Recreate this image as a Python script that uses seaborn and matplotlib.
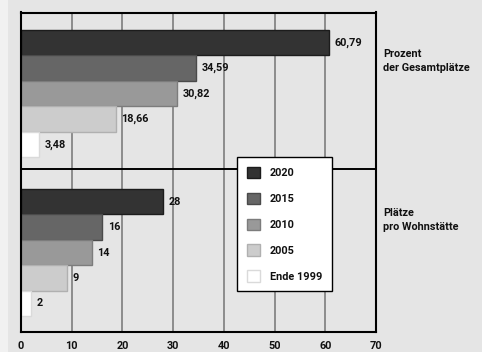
import matplotlib
matplotlib.use("Agg")
import matplotlib.pyplot as plt
import matplotlib.transforms as mtransforms
from matplotlib.patches import Patch, Rectangle
import seaborn as sns
import pandas as pd

# Kategorien (Zeilen) und Jahrgänge (Balken je Zeile)
kategorien = ["Prozent\nder Gesamtplätze", "Plätze\npro Wohnstätte"]
jahre = ["2020", "2015", "2010", "2005", "Ende 1999"]

# Werte je Jahrgang: [Prozent der Gesamtplätze, Plätze pro Wohnstätte]
werte_2020 = [60.79, 28]
werte_2015 = [34.59, 16]
werte_2010 = [30.82, 14]
werte_2005 = [18.66, 9]
werte_1999 = [3.48, 2]

beschriftung_2020 = ["60,79", "28"]
beschriftung_2015 = ["34,59", "16"]
beschriftung_2010 = ["30,82", "14"]
beschriftung_2005 = ["18,66", "9"]
beschriftung_1999 = ["3,48", "2"]

x_ticks = [0, 10, 20, 30, 40, 50, 60, 70]

farben = ["#333333", "#666666", "#999999", "#cccccc", "#ffffff"]
randfarben = ["#1c1c1c", "#4a4a4a", "#7c7c7c", "#b0b0b0", "#dadada"]

werte = [werte_2020, werte_2015, werte_2010, werte_2005, werte_1999]
beschriftungen = [beschriftung_2020, beschriftung_2015, beschriftung_2010,
                  beschriftung_2005, beschriftung_1999]

df = pd.DataFrame(
    [(k, j, w[i]) for j, w in zip(jahre, werte) for i, k in enumerate(kategorien)],
    columns=["kategorie", "jahr", "wert"],
)

sns.set_theme(style="white")
plt.rcParams["font.family"] = ["Roboto", "DejaVu Sans"]
plt.rcParams["font.weight"] = "bold"

FS = 7.8
TXT = "#111111"
bg = "#e5e5e5"
fig = plt.figure(figsize=(4.82, 3.52), dpi=100, facecolor=bg)
ax = fig.add_axes([21 / 482, 1 - 332 / 352, 355 / 482, 319.5 / 352])
ax.set_facecolor(bg)

# heller Randstreifen links
fig.patches.append(Rectangle((0, 0), 8 / 482, 1, transform=fig.transFigure,
                             facecolor="#f1f1f1", edgecolor="none", zorder=-1))

# vertikale Hilfslinien
for t in x_ticks[1:-1]:
    ax.axvline(t, color="#8c8c8c", lw=1.4, zorder=0)

sns.barplot(data=df, y="kategorie", x="wert", hue="jahr", orient="h",
            order=kategorien, hue_order=jahre, palette=farben,
            saturation=1, legend=False, ax=ax, zorder=2, linewidth=1)

for cont, rc, labels in zip(ax.containers, randfarben, beschriftungen):
    for bar in cont:
        bar.set_edgecolor(rc)
    ax.bar_label(cont, labels=labels, padding=4, fontsize=FS, fontweight="bold",
                 color=TXT)

# Trennlinie zwischen den beiden Gruppen
ax.axhline(0.475, color="black", lw=1.4, zorder=1)

ax.set_xlim(0, 70)
ax.set_ylim(1.5, -0.51)
ax.set_xticks(x_ticks)
ax.set_xticklabels([str(t) for t in x_ticks], fontsize=FS, fontweight="bold",
                   color=TXT)
ax.tick_params(axis="x", length=0, pad=6.5)
ax.set_yticks([])
ax.set_xlabel("")
ax.set_ylabel("")
for s in ax.spines.values():
    s.set_visible(True)
    s.set_color("black")
    s.set_linewidth(1.5)

# Zeilenbeschriftung rechts neben dem Diagramm
trans = mtransforms.blended_transform_factory(ax.transAxes, ax.transData)
for i, k in enumerate(kategorien):
    ax.text(1.02, i - 0.28, k, transform=trans, ha="left", va="top",
            fontsize=FS, fontweight="bold", color=TXT, linespacing=1.45)

handles = [Patch(facecolor=f, edgecolor=r, lw=1) for f, r in zip(farben, randfarben)]
leg = ax.legend(handles, jahre, loc="upper left", bbox_to_anchor=(0.608, 0.548),
                borderaxespad=0, fontsize=FS, frameon=True, fancybox=False,
                handlelength=1.2, handleheight=1.2, labelspacing=1.36,
                handletextpad=0.95, borderpad=0.9)
leg.get_frame().set_edgecolor("black")
leg.get_frame().set_linewidth(1)
leg.get_frame().set_facecolor("white")
leg.get_frame().set_alpha(1)
leg.set_zorder(5)
for t in leg.get_texts():
    t.set_fontweight("bold")
    t.set_color(TXT)

fig.savefig("out.png", dpi=100, facecolor=bg)
